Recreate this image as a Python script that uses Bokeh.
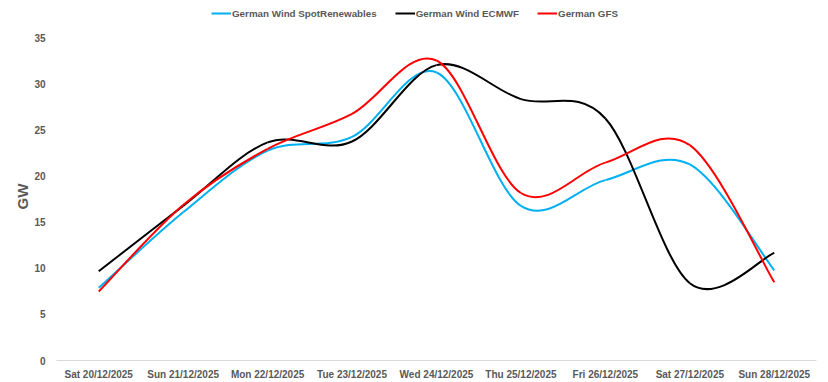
import numpy as np
from bokeh.plotting import figure
from bokeh.models import FixedTicker, Legend, LegendItem, Range1d, Title
from bokeh.embed import file_html
from bokeh.resources import INLINE

# ---- data (GW) ----
dates = ["Sat 20/12/2025", "Sun 21/12/2025", "Mon 22/12/2025", "Tue 23/12/2025",
         "Wed 24/12/2025", "Thu 25/12/2025", "Fri 26/12/2025", "Sat 27/12/2025",
         "Sun 28/12/2025"]
spot_renewables = [7.9, 16.1, 22.8, 24.3, 31.3, 16.8, 19.6, 21.3, 9.8]
ecmwf = [9.7, 16.8, 23.7, 23.8, 32.1, 28.4, 26.3, 8.4, 11.7]
gfs = [7.5, 16.9, 23.0, 26.8, 32.6, 18.2, 21.5, 23.4, 8.5]
y_ticks = [0, 5, 10, 15, 20, 25, 30, 35]

series = [
    ("German Wind SpotRenewables", spot_renewables, "#00B0F0"),
    ("German Wind ECMWF", ecmwf, "#000000"),
    ("German GFS", gfs, "#FF0000"),
]

TXT = "#595959"
FONT = "Liberation Sans"

p = figure(width=828, height=382, output_backend="svg", toolbar_location=None,
           x_range=Range1d(-0.5, len(dates) - 0.5), y_range=Range1d(0, 39.12),
           min_border_left=56, min_border_right=12, min_border_top=0,
           min_border_bottom=21)
p.outline_line_color = None
p.grid.visible = False
p.background_fill_color = "white"
p.border_fill_color = "white"


def smooth_segments(vals):
    xs = list(range(len(vals)))
    xe = [xs[0]] + xs + [xs[-1]]
    ye = [vals[0]] + list(vals) + [vals[-1]]
    seg = dict(x0=[], y0=[], x1=[], y1=[], cx0=[], cy0=[], cx1=[], cy1=[])
    for i in range(len(vals) - 1):
        seg["x0"].append(xs[i]); seg["y0"].append(vals[i])
        seg["x1"].append(xs[i + 1]); seg["y1"].append(vals[i + 1])
        seg["cx0"].append(xs[i] + (xe[i + 2] - xe[i]) / 6)
        seg["cy0"].append(vals[i] + (ye[i + 2] - ye[i]) / 6)
        seg["cx1"].append(xs[i + 1] - (xe[i + 3] - xe[i + 1]) / 6)
        seg["cy1"].append(vals[i + 1] - (ye[i + 3] - ye[i + 1]) / 6)
    return seg


items = []
for name, vals, color in series:
    s = smooth_segments(vals)
    r = p.bezier(x0=s["x0"], y0=s["y0"], x1=s["x1"], y1=s["y1"],
                 cx0=s["cx0"], cy0=s["cy0"], cx1=s["cx1"], cy1=s["cy1"],
                 line_color=color, line_width=2)
    items.append(LegendItem(label=name, renderers=[r]))

legend = Legend(items=items, orientation="horizontal", location=(155, 341),
                padding=0, margin=0, spacing=18, glyph_width=20, glyph_height=12,
                label_height=12, label_standoff=1, border_line_color=None,
                background_fill_alpha=0, label_text_font=FONT,
                label_text_font_size="9.8px", label_text_font_style="bold",
                label_text_color=TXT)
p.add_layout(legend)

for ax in (p.xaxis, p.yaxis):
    ax.major_tick_out = 0
    ax.major_tick_in = 0
    ax.minor_tick_out = 0
    ax.minor_tick_in = 0
    ax.major_tick_line_color = None
    ax.minor_tick_line_color = None
    ax.major_label_text_font = FONT
    ax.major_label_text_font_size = "10px"
    ax.major_label_text_font_style = "bold"
    ax.major_label_text_color = TXT

# x axis
p.xaxis.ticker = FixedTicker(ticks=list(range(len(dates))))
p.xaxis.major_label_overrides = {i: d for i, d in enumerate(dates)}
p.xaxis.axis_line_color = "#D9D9D9"
p.xaxis.axis_line_width = 1
p.xaxis.major_label_standoff = 8
p.xaxis.axis_label_standoff = 0

# y axis
p.yaxis.ticker = FixedTicker(ticks=y_ticks)
p.yaxis.axis_line_color = None
p.yaxis.major_label_standoff = 11

# axis title on the left, placed at the middle of the 0-35 span
gw = Title(text="GW", align="left", offset=151, text_font=FONT,
           text_font_size="15px", text_font_style="bold", text_color=TXT,
           standoff=2)
p.add_layout(gw, "left")

open("out.html", "w").write(file_html(p, INLINE))
